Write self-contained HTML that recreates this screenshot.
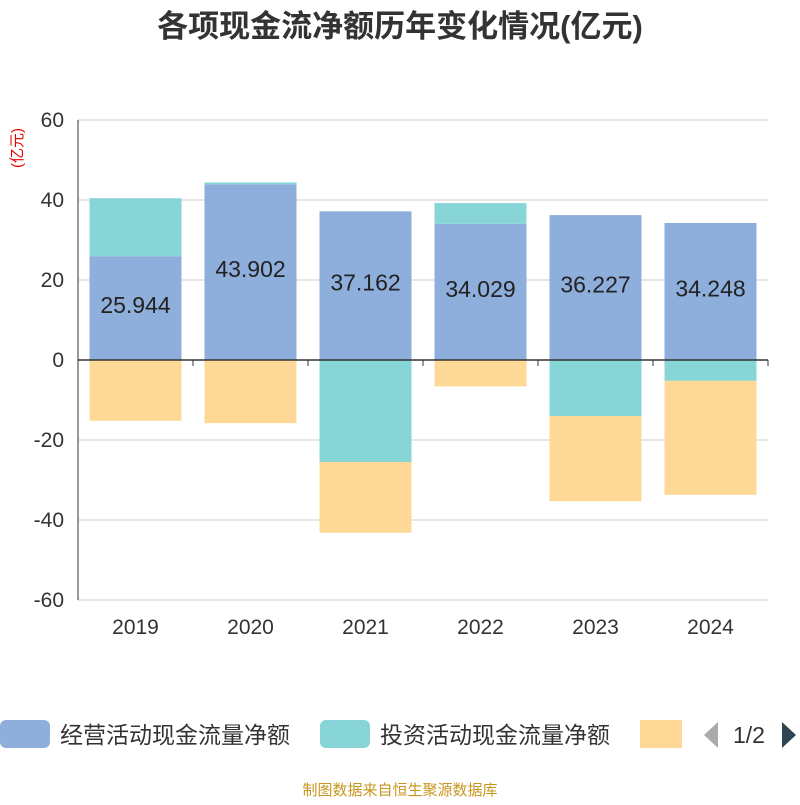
<!DOCTYPE html>
<html><head><meta charset="utf-8"><style>
body{margin:0;width:800px;height:800px;background:#fff;font-family:"Liberation Sans","Noto Sans CJK SC",sans-serif;overflow:hidden}
</style></head><body>
<svg width="800" height="800" xmlns="http://www.w3.org/2000/svg">
<text x="400" y="37" text-anchor="middle" font-size="31" font-weight="bold" fill="#333" font-family="Liberation Sans,Noto Sans CJK SC,sans-serif">各项现金流净额历年变化情况(亿元)</text>
<text x="0" y="0" transform="translate(22,148) rotate(-90)" text-anchor="middle" font-size="15" fill="#e00" font-family="Liberation Sans,Noto Sans CJK SC,sans-serif">(亿元)</text>
<g id="grid"></g><g id="bars"></g><g id="axes"></g>
<g font-family="Liberation Sans,Noto Sans CJK SC,sans-serif" font-size="23" fill="#333">
<rect x="0" y="720" width="50" height="28" rx="6" fill="#8eaedb"/>
<text x="60" y="743">经营活动现金流量净额</text>
<rect x="320" y="720" width="50" height="28" rx="6" fill="#88d5d8"/>
<text x="380" y="743">投资活动现金流量净额</text>
<rect x="640" y="720" width="42" height="28" fill="#fed897"/>
<polygon points="718,722 718,748 704,735" fill="#aaa"/>
<text x="733" y="743">1/2</text>
<polygon points="782,722 782,748 796,735" fill="#2f4554"/>
</g>
<text x="400" y="795" text-anchor="middle" font-size="15" fill="#c8961e" font-family="Liberation Sans,Noto Sans CJK SC,sans-serif">制图数据来自恒生聚源数据库</text>
</svg>
<script>
const years=["2019","2020","2021","2022","2023","2024"];
const operating=[25.944,43.902,37.162,34.029,36.227,34.248];
const investing=[14.5,0.5,-25.5,5.2,-14,-5.2];
const financing=[-15.2,-15.8,-17.7,-6.6,-21.3,-28.5];
const yTicks=[60,40,20,0,-20,-40,-60];
const NS="http://www.w3.org/2000/svg";
const x0=78,x1=768,band=(x1-x0)/years.length,bw=92;
const y=v=>360-v*4;
function mk(t,a,p){const e=document.createElementNS(NS,t);for(const k in a)e.setAttribute(k,a[k]);document.getElementById(p).appendChild(e);return e;}
yTicks.forEach(t=>{
 const l=mk('line',{x1:x0,x2:x1,y1:y(t),y2:y(t),stroke:'#ccc','stroke-width':1},'grid');
 
 
 const tx=mk('text',{x:x0-14,y:y(t)+7,'text-anchor':'end','font-size':21,fill:'#333','font-family':'Liberation Sans,sans-serif'},'axes');
 tx.textContent=t;
 
 
});
const ya=mk('line',{x1:x0,x2:x0,y1:y(60),y2:y(-60),stroke:'#333','stroke-width':1},'axes');


const xa=mk('line',{x1:x0,x2:x1,y1:y(0),y2:y(0),stroke:'#333','stroke-width':1.5},'axes');


for(let i=0;i<=years.length;i++){const tk=mk('line',{x1:x0+i*band,x2:x0+i*band,y1:y(0),y2:y(0)+6,stroke:'#333'},'axes');

}
years.forEach((yr,i)=>{
 const bx=x0+i*band+(band-bw)/2;
 let pos=0,neg=0;
 [[operating[i],'#8eaedb','operating'],[investing[i],'#88d5d8','investing'],[financing[i],'#fed897','financing']].forEach(([v,c,n])=>{
  let a,b;
  if(v>=0){a=pos;b=pos+v;pos=b;}else{a=neg;b=neg+v;neg=b;}
  const r=mk('rect',{x:bx,y:Math.min(y(a),y(b)),width:bw,height:Math.abs(y(a)-y(b)),fill:c},'bars');
  
  
 });
 const lb=mk('text',{x:bx+bw/2,y:y(operating[i]/2)+5,'text-anchor':'middle','font-size':23,fill:'#222','font-family':'Liberation Sans,sans-serif'},'bars');
 lb.textContent=operating[i].toFixed(3);
 
 
 const xl=mk('text',{x:bx+bw/2,y:634,'text-anchor':'middle','font-size':21,fill:'#333','font-family':'Liberation Sans,sans-serif'},'axes');
 xl.textContent=yr;
 
 
});
</script>
</body></html>
